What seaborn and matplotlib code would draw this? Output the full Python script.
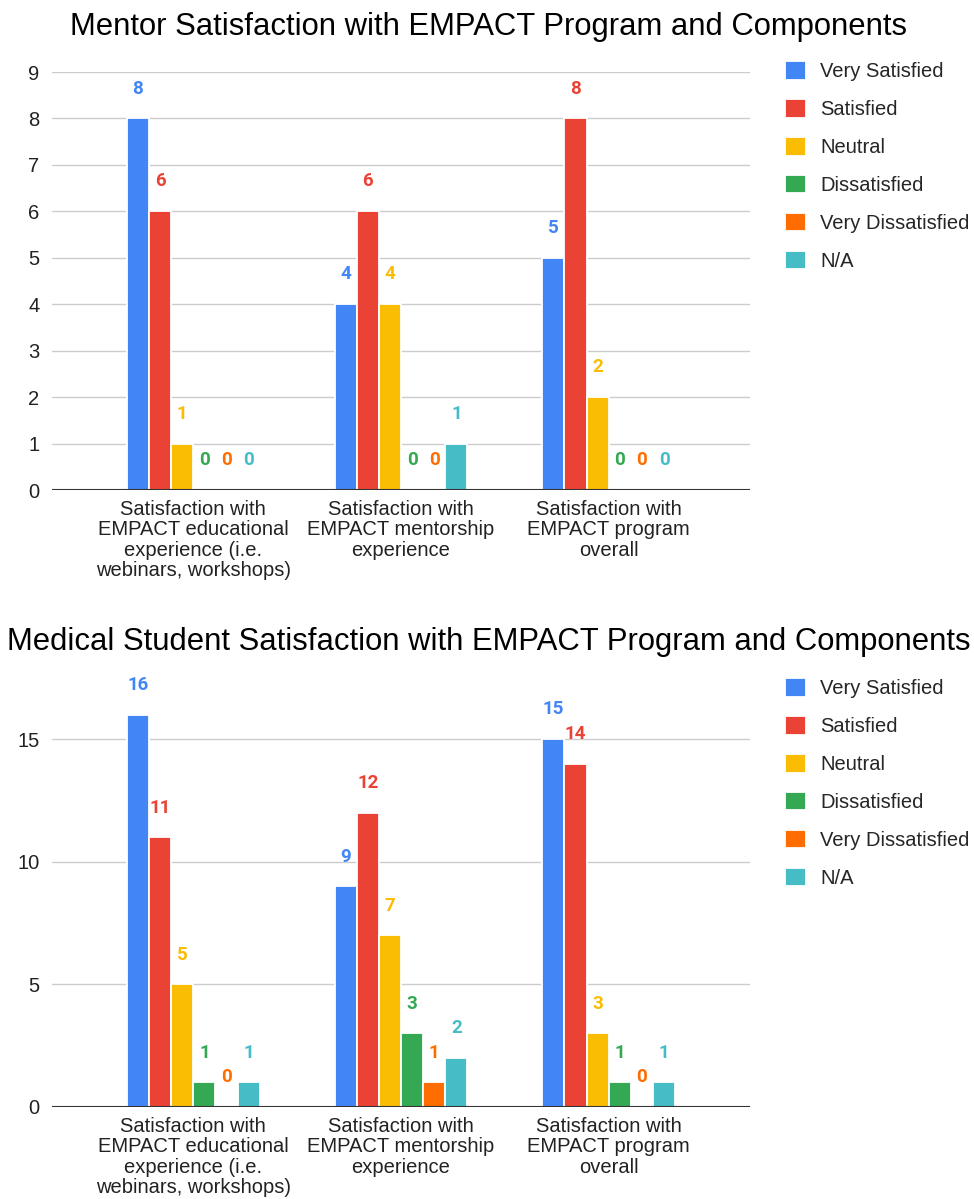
import pandas as pd
import seaborn as sns
import matplotlib.pyplot as plt

categories = [
    "Satisfaction with\nEMPACT educational\nexperience (i.e.\nwebinars, workshops)",
    "Satisfaction with\nEMPACT mentorship\nexperience",
    "Satisfaction with\nEMPACT program\noverall",
]
responses = ["Very Satisfied", "Satisfied", "Neutral", "Dissatisfied",
             "Very Dissatisfied", "N/A"]
colors = ["#4285F4", "#EA4335", "#FBBC04", "#34A853", "#FF6D01", "#46BDC6"]

# counts per category, in the order of `responses`
mentor_educational = [8, 6, 1, 0, 0, 0]
mentor_mentorship = [4, 6, 4, 0, 0, 1]
mentor_overall = [5, 8, 2, 0, 0, 0]

student_educational = [16, 11, 5, 1, 0, 1]
student_mentorship = [9, 12, 7, 3, 1, 2]
student_overall = [15, 14, 3, 1, 0, 1]

mentor_title = "Mentor Satisfaction with EMPACT Program and Components"
student_title = "Medical Student Satisfaction with EMPACT Program and Components"
mentor_yticks = [0, 1, 2, 3, 4, 5, 6, 7, 8, 9]
student_yticks = [0, 5, 10, 15]


def to_long(rows):
    recs = []
    for cat, vals in zip(categories, rows):
        for resp, v in zip(responses, vals):
            recs.append({"category": cat, "response": resp, "count": v})
    return pd.DataFrame(recs)


mentor_df = to_long([mentor_educational, mentor_mentorship, mentor_overall])
student_df = to_long([student_educational, student_mentorship, student_overall])

sns.set_theme(style="white")
plt.rcParams["font.family"] = ["Liberation Sans", "DejaVu Sans"]

W, H = 974, 1199
fig = plt.figure(figsize=(W / 100, H / 100), dpi=100)


def fig_rect(left, top, right, bottom):
    return [left / W, 1 - bottom / H, (right - left) / W, (bottom - top) / H]


def draw(ax, df, yticks, ylim, title, title_y, legend_top):
    sns.barplot(data=df, x="category", y="count", hue="response",
                order=categories, hue_order=responses, palette=colors,
                saturation=1, width=0.64, edgecolor="white", linewidth=1.3,
                errorbar=None, ax=ax)
    for cont, c in zip(ax.containers, colors):
        ax.bar_label(cont, padding=15, color=c, fontsize=13.5,
                     fontweight="bold", family="Roboto")
    ax.set_xlim(-0.68, 2.68)
    ax.set_ylim(*ylim)
    ax.set_yticks(yticks)
    ax.yaxis.grid(True, color="#cccccc", linewidth=1)
    ax.set_axisbelow(True)
    ax.axhline(0, color="#333333", linewidth=1.5, zorder=5)
    for s in ax.spines.values():
        s.set_visible(False)
    ax.set_xlabel("")
    ax.set_ylabel("")
    ax.tick_params(axis="y", length=0, pad=9, labelsize=14.5, labelcolor="#222222")
    ax.tick_params(axis="x", length=0, pad=7, labelsize=14.5, labelcolor="#222222")
    for lbl in ax.get_xticklabels():
        lbl.set_linespacing(1.1)
    handles, labels = ax.get_legend_handles_labels()
    ax.legend(handles, labels, loc="upper left",
              bbox_to_anchor=(785 / W, 1 - legend_top / H),
              bbox_transform=fig.transFigure, frameon=False,
              borderpad=0, borderaxespad=0, fontsize=14.5,
              handlelength=1.05, handleheight=1.05, handletextpad=0.7,
              labelspacing=0.88)
    fig.text(489 / W, 1 - title_y / H, title, ha="center", va="center",
             fontsize=22.3, color="black")


ax1 = fig.add_axes(fig_rect(52, 72, 750, 490))
draw(ax1, mentor_df, mentor_yticks, (0, 9), mentor_title, 27, 61)

ax2 = fig.add_axes(fig_rect(52, 678, 750, 1107))
draw(ax2, student_df, student_yticks, (0, 17.5), student_title, 642, 678)

fig.savefig("out.png", dpi=100, facecolor="white")
